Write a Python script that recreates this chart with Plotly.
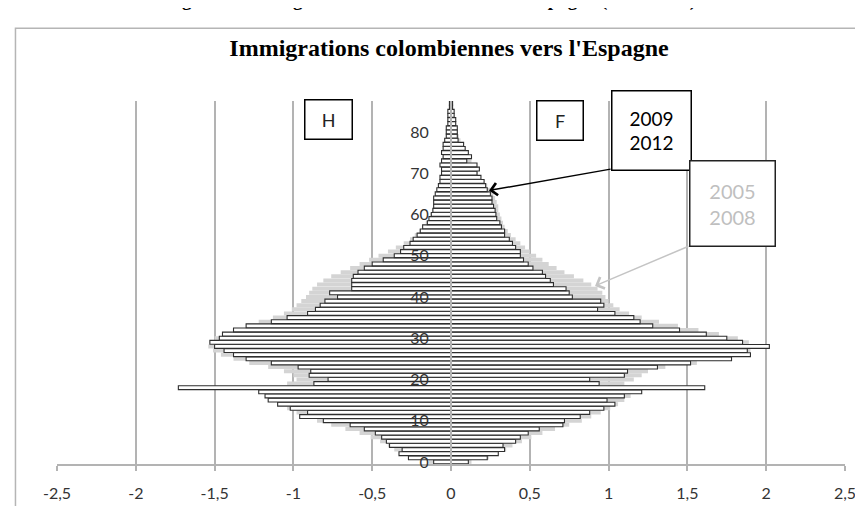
import plotly.graph_objects as go

# ages 0..87 (one bar per year of age)
ages = list(range(88))

# 2009-2012 (white bars, outlined) - men negative, women positive
hommes_0912 = [-0.11, -0.27, -0.33, -0.31, -0.39, -0.41, -0.44, -0.48, -0.55, -0.64,
               -0.81, -0.96, -0.91, -1.02, -1.10, -1.16, -1.18, -1.22, -1.73, -0.87,
               -0.78, -0.90, -0.89, -0.97, -1.14, -1.30, -1.38, -1.44, -1.50, -1.53,
               -1.47, -1.45, -1.38, -1.30, -1.14, -1.04, -0.91, -0.86, -0.83, -0.80,
               -0.72, -0.77, -0.63, -0.63, -0.63, -0.62, -0.59, -0.55, -0.50, -0.43,
               -0.36, -0.32, -0.30, -0.26, -0.24, -0.215, -0.195, -0.18, -0.15, -0.14,
               -0.125, -0.115, -0.11, -0.11, -0.11, -0.10, -0.09, -0.08, -0.07, -0.07,
               -0.06, -0.06, -0.07, -0.06, -0.05, -0.06, -0.05, -0.05, -0.04, -0.03,
               -0.03, -0.03, -0.02, -0.02, -0.02, -0.02, -0.01, -0.01]
femmes_0912 = [0.11, 0.23, 0.30, 0.34, 0.33, 0.41, 0.44, 0.49, 0.56, 0.71,
               0.72, 0.82, 0.88, 0.97, 1.04, 0.99, 1.10, 1.21, 1.61, 0.94,
               0.88, 1.10, 1.12, 1.31, 1.52, 1.78, 1.90, 1.88, 2.02, 1.85,
               1.75, 1.62, 1.45, 1.28, 1.20, 1.16, 1.04, 0.93, 0.97, 0.95,
               0.77, 0.75, 0.73, 0.65, 0.63, 0.60, 0.58, 0.52, 0.49, 0.46,
               0.44, 0.44, 0.41, 0.39, 0.37, 0.34, 0.34, 0.32, 0.31, 0.29,
               0.285, 0.28, 0.27, 0.26, 0.26, 0.25, 0.23, 0.22, 0.21, 0.19,
               0.165, 0.18, 0.165, 0.10, 0.13, 0.11, 0.09, 0.08, 0.045, 0.04,
               0.04, 0.04, 0.03, 0.03, 0.02, 0.02, 0.01, 0.01]

# 2005-2008 (light grey bars behind)
hommes_0508 = [-0.14, -0.26, -0.33, -0.36, -0.40, -0.45, -0.51, -0.58, -0.67, -0.76,
               -0.85, -0.92, -0.98, -1.04, -1.09, -1.13, -1.16, -1.20, -1.24, -1.04,
               -0.98, -1.00, -1.06, -1.16, -1.28, -1.38, -1.46, -1.51, -1.54, -1.53,
               -1.50, -1.45, -1.38, -1.30, -1.22, -1.13, -1.06, -1.01, -0.98, -0.95,
               -0.92, -0.90, -0.88, -0.85, -0.81, -0.76, -0.70, -0.64, -0.58, -0.52,
               -0.46, -0.40, -0.35, -0.30, -0.26, -0.23, -0.20, -0.18, -0.16, -0.14,
               -0.13, -0.12, -0.11, -0.10, -0.10, -0.09, -0.08, -0.08, -0.07, -0.06,
               -0.06, -0.05, -0.05, -0.05, -0.04, -0.04, -0.04, -0.03, -0.03, -0.03,
               -0.02, -0.02, -0.02, -0.02, -0.01, -0.01, -0.01, -0.01]
femmes_0508 = [0.13, 0.24, 0.30, 0.35, 0.39, 0.45, 0.51, 0.58, 0.66, 0.75,
               0.83, 0.89, 0.95, 1.01, 1.06, 1.10, 1.14, 1.19, 1.24, 1.10,
               1.16, 1.21, 1.25, 1.36, 1.56, 1.72, 1.84, 1.90, 1.92, 1.89,
               1.82, 1.70, 1.57, 1.44, 1.32, 1.21, 1.13, 1.07, 1.03, 1.00,
               0.98, 0.96, 0.93, 0.89, 0.84, 0.78, 0.72, 0.67, 0.62, 0.58,
               0.54, 0.50, 0.47, 0.44, 0.41, 0.38, 0.36, 0.34, 0.33, 0.32,
               0.31, 0.30, 0.30, 0.29, 0.28, 0.27, 0.25, 0.23, 0.21, 0.19,
               0.17, 0.16, 0.15, 0.13, 0.12, 0.10, 0.09, 0.07, 0.06, 0.05,
               0.04, 0.035, 0.03, 0.025, 0.02, 0.015, 0.01, 0.01]

x_ticks = [-2.5, -2, -1.5, -1, -0.5, 0, 0.5, 1, 1.5, 2, 2.5]
x_tick_labels = ["-2,5", "-2", "-1,5", "-1", "-0,5", "0", "0,5", "1", "1,5", "2", "2,5"]
y_ticks = [0, 10, 20, 30, 40, 50, 60, 70, 80]

fig = go.Figure()

# grey series first (behind)
for vals in [hommes_0508, femmes_0508]:
    fig.add_trace(go.Bar(x=vals, y=ages, orientation='h',
                         marker=dict(color='#d4d4d4', line=dict(width=0)),
                         showlegend=False))
# white outlined series on top
for vals in [hommes_0912, femmes_0912]:
    fig.add_trace(go.Bar(x=vals, y=ages, orientation='h',
                         marker=dict(color='white', line=dict(color='#2e2e2e', width=1.1)),
                         showlegend=False))

fig.update_layout(
    width=863, height=506,
    margin=dict(l=49, r=26, t=93, b=44),
    paper_bgcolor='white', plot_bgcolor='white',
    barmode='overlay', bargap=0.05,
    title=dict(text="<b>Immigrations colombiennes vers l'Espagne</b>",
               font=dict(family='Liberation Serif', size=24, color='black'),
               x=441 / 863, xref='container', xanchor='center',
               y=1 - 40 / 506, yref='container', yanchor='middle'),
    font=dict(family='Lato', color='#333333'),
)

fig.update_xaxes(range=[-2.5, 2.5], tickvals=x_ticks, ticktext=x_tick_labels,
                 showgrid=True, gridcolor='#b3b3b3', gridwidth=1.5,
                 zeroline=False, showline=True, linecolor='#b3b3b3', linewidth=1.5,
                 ticks='outside', ticklen=5, tickcolor='#b3b3b3', tickwidth=1.5,
                 ticklabelstandoff=9, tickfont=dict(size=16, color='#333333'))

fig.update_yaxes(range=[-0.5, 87.5], tickvals=y_ticks, anchor='free', position=0.5,
                 showgrid=False, zeroline=False, showline=True, linecolor='#b3b3b3',
                 linewidth=2, layer='above traces', ticks='', ticklabelstandoff=18,
                 tickfont=dict(size=16, color='#333333'))

# chart frame
fig.add_shape(type='rect', xref='paper', yref='paper',
              x0=-0.0527, x1=1.0254, y0=-0.2, y1=1.2005,
              line=dict(color='#b5b5b5', width=1.5), layer='below')

# caption cut at the top of the picture
fig.add_annotation(text="<b>Figure 3 : Immigrations colombiennes vers l'Espagne (2005-2012)</b>",
                   xref='paper', yref='paper', x=0.4746, y=1.2791,
                   xanchor='center', yanchor='middle', showarrow=False,
                   font=dict(family='Liberation Serif', size=19, color='black'))

# H / F boxes
fig.add_annotation(text="H", x=-0.777, y=83.1, showarrow=False, width=46, height=38,
                   borderpad=0, borderwidth=1.5, bordercolor='black', bgcolor='white',
                   font=dict(size=18, color='#222222'))
fig.add_annotation(text="F", x=0.692, y=82.85, showarrow=False, width=45, height=38,
                   borderpad=0, borderwidth=1.5, bordercolor='black', bgcolor='white',
                   font=dict(size=18, color='#222222'))

# arrows
fig.add_annotation(text="", x=0.241, y=65.8, ax=1.022, ay=71.05, axref='x', ayref='y',
                   showarrow=True, arrowhead=4, arrowsize=1.6, arrowwidth=1.5,
                   arrowcolor='black')
fig.add_annotation(text="", x=0.914, y=42.67, ax=1.517, ay=52.45, axref='x', ayref='y',
                   showarrow=True, arrowhead=4, arrowsize=1.6, arrowwidth=1.5,
                   arrowcolor='#c4c4c4')

# legend boxes
fig.add_annotation(text="2009<br>2012", x=1.272, y=80.23, showarrow=False,
                   width=78, height=78, borderpad=0, borderwidth=1.5,
                   bordercolor='black', bgcolor='white',
                   font=dict(size=19, color='black'))
fig.add_annotation(text="2005<br>2008", x=1.786, y=62.58, showarrow=False,
                   width=84, height=84, borderpad=0, borderwidth=1.5,
                   bordercolor='#222222', bgcolor='white',
                   font=dict(size=20, color='#bfbfbf'))

fig.write_html("out.html")
